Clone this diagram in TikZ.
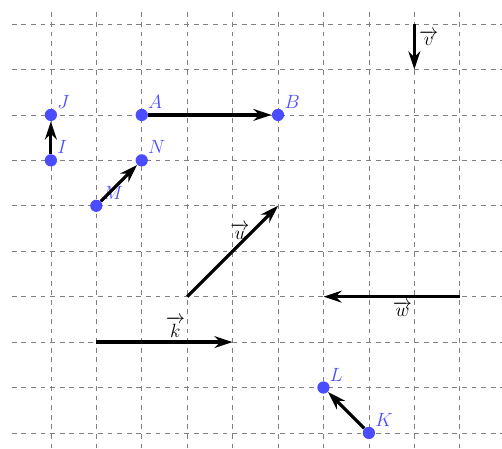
\documentclass[tikz,border=0pt]{standalone}
\usepackage{amsmath}
\usepackage{amssymb}
\usepackage{tikz}
\usetikzlibrary{arrows.meta}

\begin{document}
\begin{tikzpicture}[
point/.style={
circle,
fill=blue!70,
inner sep=0pt,
minimum size=0.27cm
},
vec/.style={
-{Stealth[length=4mm,width=2.6mm]},
line width=2pt
},
ptlabel/.style={
text=blue!70,
font=\large,
inner sep=1pt,
label distance=0pt
},
veclabel/.style={
font=\large,
inner sep=2pt
},
gridline/.style={
gray,
dashed
}
]

\useasboundingbox (-1.12,-0.34) rectangle (9.93,9.53);
\draw[gridline] (-0.86,-0.34) grid (9.93,9.35);

\node[point, label={[ptlabel]above right:$J$}] (J) at (0,7) {};
\node[point, label={[ptlabel]above right:$I$}] (I) at (0,6) {};
\node[point, label={[ptlabel]above right:$A$}] (A) at (2,7) {};
\node[point, label={[ptlabel]above right:$B$}] (B) at (5,7) {};
\node[point, label={[ptlabel]above right:$N$}] (N) at (2,6) {};
\node[point, label={[ptlabel]above right:$M$}] (M) at (1,5) {};
\node[point, label={[ptlabel]above right:$L$}] (L) at (6,1) {};
\node[point, label={[ptlabel]above right:$K$}] (K) at (7,0) {};

\coordinate (v0) at (8,9);
\coordinate (v1) at (8,8);
\coordinate (u0) at (3,3);
\coordinate (u1) at (5,5);
\coordinate (k0) at (1,2);
\coordinate (k1) at (4,2);
\coordinate (w0) at (9,3);
\coordinate (w1) at (6,3);

\draw[vec] (I) -- (J);
\draw[vec] (A) -- (B);
\draw[vec] (M) -- (N);
\draw[vec] (K) -- (L);
\draw[vec] (v0) -- node[veclabel, pos=0.3, right] {$\overrightarrow{v}$} (v1);
\draw[vec] (u0) -- node[veclabel, pos=0.58, above] {$\overrightarrow{u}$} (u1);
\draw[vec] (k0) -- node[veclabel, pos=0.58, above] {$\overrightarrow{k}$} (k1);
\draw[vec] (w0) -- node[veclabel, pos=0.42, below] {$\overrightarrow{w}$} (w1);

\end{tikzpicture}
\end{document}
